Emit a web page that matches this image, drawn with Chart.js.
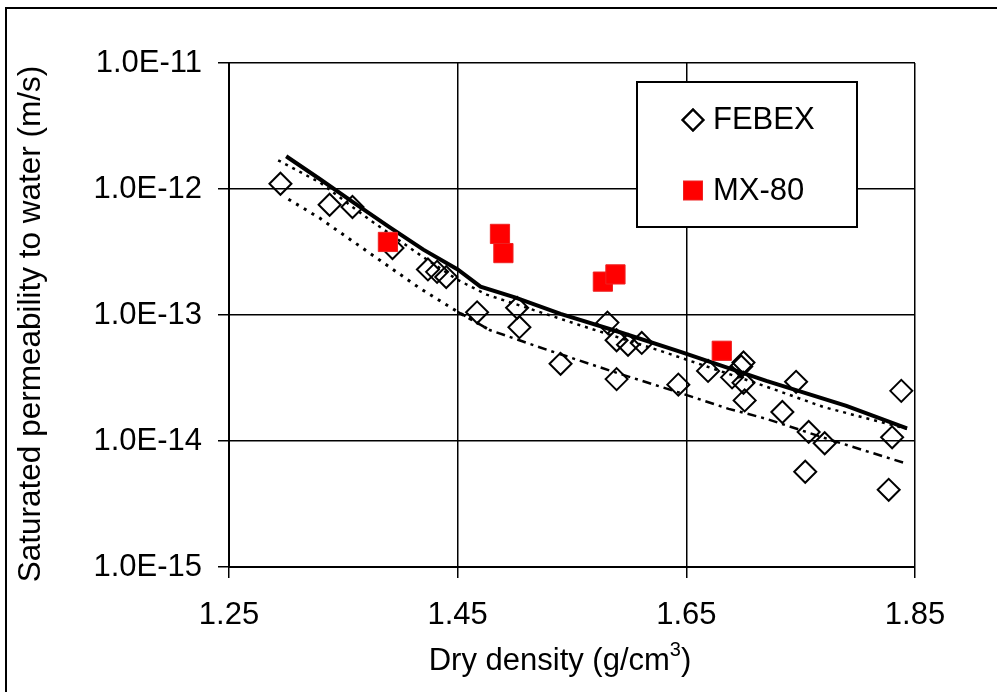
<!DOCTYPE html>
<html>
<head>
<meta charset="utf-8">
<script src="https://cdn.jsdelivr.net/npm/chart.js@4.4.1/dist/chart.umd.min.js"></script>
<style>
  html, body { margin: 0; padding: 0; background: #fff; }
  #wrap { width: 997px; height: 692px; }
</style>
</head>
<body>
<div id="wrap"><canvas id="chart" width="997" height="692"></canvas></div>
<script>
// Axis ticks
const xTicks = [1.25, 1.45, 1.65, 1.85];
const yTicks = [1e-15, 1e-14, 1e-13, 1e-12, 1e-11];

// FEBEX measurements (dry density g/cm3, permeability m/s)
const febexDensity = [1.295, 1.338, 1.358, 1.393, 1.424, 1.432, 1.440, 1.467, 1.502, 1.504,
                      1.540, 1.581, 1.589, 1.589, 1.599, 1.611, 1.643, 1.669, 1.690, 1.698,
                      1.700, 1.700, 1.701, 1.734, 1.746, 1.754, 1.757, 1.771, 1.827, 1.830, 1.838];
const febexPerm = [1.1e-12, 7.5e-13, 7.2e-13, 3.4e-13, 2.3e-13, 2.2e-13, 2.0e-13, 1.05e-13, 1.14e-13, 8.0e-14,
                   4.1e-14, 8.7e-14, 6.3e-14, 3.1e-14, 5.8e-14, 6.0e-14, 2.8e-14, 3.6e-14, 3.2e-14, 3.9e-14,
                   4.2e-14, 2.9e-14, 2.1e-14, 1.7e-14, 2.95e-14, 5.7e-15, 1.18e-14, 9.6e-15, 4.1e-15, 1.07e-14, 2.5e-14];

// MX-80 measurements
const mx80Density = [1.389, 1.487, 1.490, 1.577, 1.588, 1.681];
const mx80Perm = [3.8e-13, 4.4e-13, 3.1e-13, 1.84e-13, 2.1e-13, 5.2e-14];

// Fitted curves
const upperFitDensity = [1.30, 1.33, 1.36, 1.39, 1.42, 1.45, 1.47, 1.50, 1.54, 1.59, 1.645, 1.72, 1.79, 1.843];
const upperFitPerm = [1.82e-12, 1.19e-12, 7.7e-13, 5.0e-13, 3.3e-13, 2.3e-13, 1.68e-13, 1.38e-13, 1.02e-13, 7.4e-14, 5.1e-14, 3.0e-14, 1.9e-14, 1.26e-14];

const upperDotDensity = [1.293, 1.33, 1.373, 1.417, 1.45, 1.4754, 1.557, 1.63, 1.72, 1.77, 1.843];
const upperDotPerm = [1.69e-12, 1.12e-12, 5.7e-13, 3.0e-13, 1.9e-13, 1.45e-13, 8.3e-14, 5.1e-14, 2.7e-14, 1.86e-14, 1.25e-14];

const lowerDotDensity = [1.302, 1.329, 1.373, 1.417, 1.45, 1.478];
const lowerDotPerm = [8.3e-13, 5.9e-13, 3.1e-13, 1.63e-13, 1.06e-13, 7.6e-14];

const lowerDashDensity = [1.45, 1.478, 1.528, 1.586, 1.645, 1.687, 1.72, 1.779, 1.843];
const lowerDashPerm = [1.06e-13, 7.6e-14, 5.3e-14, 3.55e-14, 2.4e-14, 1.8e-14, 1.5e-14, 1.0e-14, 6.6e-15];

const FONT = '"Liberation Sans", Arial, sans-serif';

function pairs(xs, ys) {
    return xs.map((x, i) => ({ x: x, y: ys[i] }));
}

function fitLine(xs, ys, width, dash) {
    return {
        data: pairs(xs, ys),
        showLine: true,
        borderColor: '#000',
        borderWidth: width,
        borderDash: dash,
        pointRadius: 0,
        fill: false,
        tension: 0
    };
}

// White page with the outer frame
const framePlugin = {
    id: 'frame',
    beforeDraw(chart) {
        const ctx = chart.ctx;
        ctx.save();
        ctx.fillStyle = '#fff';
        ctx.fillRect(0, 0, chart.width, chart.height);
        ctx.strokeStyle = '#000';
        ctx.lineWidth = 2;
        ctx.strokeRect(6, 8, chart.width + 20, chart.height + 20);
        ctx.restore();
    }
};

// Axis titles and the boxed legend
const labelsPlugin = {
    id: 'labels',
    afterDraw(chart) {
        const ctx = chart.ctx;
        ctx.save();
        ctx.fillStyle = '#000';
        ctx.font = '31.5px ' + FONT;
        ctx.textBaseline = 'middle';

        // y title
        ctx.save();
        ctx.translate(31, 324);
        ctx.rotate(-Math.PI / 2);
        ctx.textAlign = 'center';
        ctx.fillText('Saturated permeability to water (m/s)', 0, 0);
        ctx.restore();

        // x title with superscript
        ctx.font = '31px ' + FONT;
        const a = 'Dry density (g/cm', sup = '3', b = ')';
        ctx.textAlign = 'left';
        const wa = ctx.measureText(a).width;
        const wb = ctx.measureText(b).width;
        ctx.font = '20px ' + FONT;
        const ws = ctx.measureText(sup).width;
        let x0 = 560 - (wa + ws + wb) / 2;
        ctx.font = '31px ' + FONT;
        ctx.fillText(a, x0, 661);
        ctx.font = '20px ' + FONT;
        ctx.fillText(sup, x0 + wa, 650);
        ctx.font = '31px ' + FONT;
        ctx.fillText(b, x0 + wa + ws, 661);

        // legend box
        ctx.fillStyle = '#fff';
        ctx.fillRect(637, 82, 220, 145);
        ctx.strokeStyle = '#000';
        ctx.lineWidth = 2;
        ctx.strokeRect(637, 82, 220, 145);

        const febex = chart.data.datasets[1];
        const mx = chart.data.datasets[0];
        Chart.helpers.drawPoint(ctx, {
            pointStyle: febex.pointStyle, radius: 10.5, borderWidth: 2,
            rotation: 0
        }, 693, 120);
        ctx.strokeStyle = '#000';
        ctx.stroke();
        ctx.fillStyle = mx.backgroundColor;
        ctx.fillRect(683.5, 181, 19, 19);
        ctx.strokeStyle = mx.borderColor;
        ctx.lineWidth = 1;
        ctx.strokeRect(683.5, 181, 19, 19);

        ctx.fillStyle = '#000';
        ctx.font = '31px ' + FONT;
        ctx.textAlign = 'left';
        ctx.fillText(febex.label, 713, 120);
        ctx.fillText(mx.label, 713, 191);
        ctx.restore();
    }
};

const ctx = document.getElementById('chart');
new Chart(ctx, {
    type: 'scatter',
    data: {
        datasets: [
            {
                label: 'MX-80',
                data: pairs(mx80Density, mx80Perm),
                pointStyle: 'rect',
                pointRadius: 13.6,
                pointHoverRadius: 13.6,
                backgroundColor: '#ff0000',
                borderColor: '#ee2222',
                borderWidth: 1
            },
            {
                label: 'FEBEX',
                data: pairs(febexDensity, febexPerm),
                pointStyle: 'rectRot',
                pointRadius: 11,
                pointHoverRadius: 11,
                backgroundColor: 'rgba(0,0,0,0)',
                borderColor: '#000',
                borderWidth: 2
            },
            fitLine(upperFitDensity, upperFitPerm, 4, []),
            fitLine(upperDotDensity, upperDotPerm, 2.5, [3, 5]),
            fitLine(lowerDotDensity, lowerDotPerm, 3, [3, 6]),
            fitLine(lowerDashDensity, lowerDashPerm, 2.5, [9, 5, 3, 5])
        ]
    },
    options: {
        responsive: false,
        animation: false,
        events: [],
        layout: { padding: { left: 0, top: 63, right: 82, bottom: 0 } },
        plugins: {
            legend: { display: false },
            tooltip: { enabled: false }
        },
        scales: {
            x: {
                type: 'linear',
                min: 1.25,
                max: 1.85,
                afterBuildTicks: (scale) => { scale.ticks = xTicks.map(v => ({ value: v })); },
                afterFit: (scale) => { scale.height = 125; },
                ticks: {
                    color: '#000',
                    padding: 19,
                    maxRotation: 0,
                    font: { family: FONT, size: 31 },
                    callback: (v) => Number(v).toFixed(2)
                },
                grid: { color: '#000', lineWidth: 1.5, tickLength: 11, tickColor: '#000' },
                border: { display: true, color: '#000', width: 2 }
            },
            y: {
                type: 'logarithmic',
                min: 1e-15,
                max: 1e-11,
                afterBuildTicks: (scale) => { scale.ticks = yTicks.map(v => ({ value: v })); },
                afterFit: (scale) => { scale.width = 229; },
                ticks: {
                    color: '#000',
                    padding: 16,
                    font: { family: FONT, size: 31 },
                    callback: (v) => Number(v).toExponential(1).toUpperCase()
                },
                grid: { color: '#000', lineWidth: 1.5, tickLength: 11, tickColor: '#000' },
                border: { display: true, color: '#000', width: 2 }
            }
        }
    },
    plugins: [framePlugin, labelsPlugin]
});
</script>
</body>
</html>
